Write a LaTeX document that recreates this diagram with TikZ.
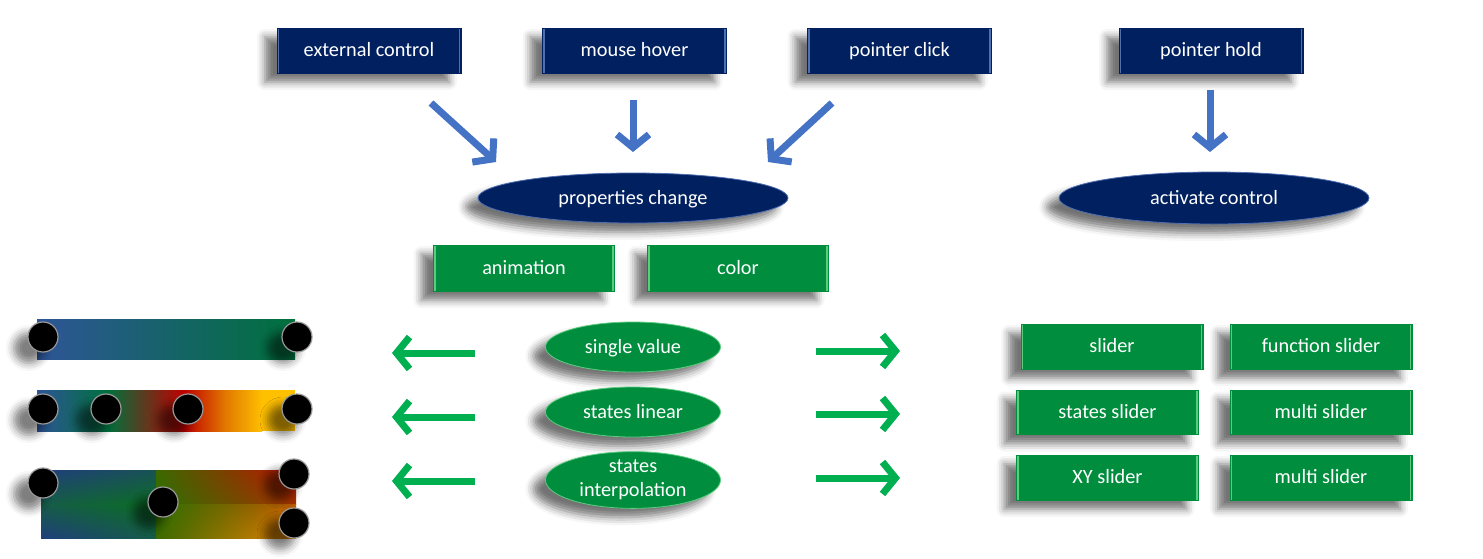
\documentclass[tikz,border=0pt]{standalone}
\usepackage{fontspec}
\setmainfont{Carlito}
\usetikzlibrary{arrows.meta,shapes.geometric,shadows.blur,shadings}
\definecolor{navy}{HTML}{002060}
\definecolor{navyedge}{HTML}{4F6FB0}
\definecolor{boxgreen}{HTML}{008E3E}
\definecolor{greenedge}{HTML}{5CCB7E}
\definecolor{arrowblue}{HTML}{4472C4}
\definecolor{arrowgreen}{HTML}{00B050}
\definecolor{cblue}{HTML}{2E5597}
\definecolor{cgreen}{HTML}{00703C}
\definecolor{cred}{HTML}{C00000}
\definecolor{corange}{HTML}{E07400}
\definecolor{cgold}{HTML}{FFC000}
\definecolor{qblue}{RGB}{31,63,122}
\definecolor{qteal}{RGB}{25,82,85}
\definecolor{qteal2}{RGB}{22,92,72}
\definecolor{qgreen}{RGB}{10,110,35}
\definecolor{qolive}{RGB}{60,105,0}
\definecolor{qolive2}{RGB}{45,112,0}
\definecolor{qred}{RGB}{192,20,0}
\definecolor{qbrown}{RGB}{165,50,0}
\definecolor{qdorange}{RGB}{190,90,0}
\definecolor{qorange}{RGB}{232,130,0}
\tikzset{
  shadowed/.style={blur shadow={shadow xshift=-12pt,shadow yshift=-9pt,shadow blur radius=8pt,shadow opacity=55}},
  txt/.style={text=white,font=\fontsize{20.3}{24}\selectfont,inner sep=0pt,align=center,text height=16pt,text depth=4pt},
  bevel/.style={path picture={
      \draw[#1,line width=1.2pt]
        ([xshift=1.5pt]path picture bounding box.north west) -- ([xshift=1.5pt]path picture bounding box.south west)
        ([xshift=-1.5pt]path picture bounding box.north east) -- ([xshift=-1.5pt]path picture bounding box.south east);}},
  navybox/.style={rectangle,fill=navy,draw=navy,txt,minimum width=184pt,minimum height=45pt,shadowed,bevel=navyedge},
  greenbox/.style={rectangle,fill=boxgreen,draw=boxgreen,txt,minimum width=182pt,minimum height=45pt,shadowed,bevel=greenedge},
  navyell/.style={ellipse,fill=navy,draw=navyedge,line width=0.8pt,txt,minimum width=310pt,minimum height=50pt,shadowed},
  greenell/.style={ellipse,fill=boxgreen,draw=greenedge,line width=0.8pt,txt,minimum width=175pt,minimum height=50pt,shadowed},
  bluearrow/.style={draw=arrowblue,line width=7pt,-{Straight Barb[length=13pt,width=32pt]}},
  greenarrow/.style={draw=arrowgreen,line width=7pt,-{Straight Barb[length=13pt,width=32pt]}},
  knob/.style={circle,fill=black,draw=gray!80,line width=1.2pt,minimum size=30pt,inner sep=0pt,
     blur shadow={shadow xshift=-14pt,shadow yshift=-11pt,shadow blur radius=8pt,shadow opacity=50}},
}
\begin{document}
\begin{tikzpicture}[x=1pt,y=-1pt]
\useasboundingbox (0,0) rectangle (1483,558);

% top row
\node[navybox] (ext)   at (369,50.5)  {external control};
\node[navybox] (hover) at (634.5,50.5){mouse hover};
\node[navybox] (click) at (899.5,50.5){pointer click};
\node[navybox] (hold)  at (1211,50.5) {pointer hold};

\node[navyell] (prop) at (633,198)  {properties change};
\node[navyell,minimum height=52pt] (act) at (1214,198) {activate control};

\coordinate (a1s) at (431,103); \coordinate (a1e) at (496,162);
\coordinate (a2s) at (633,100); \coordinate (a2e) at (633,152);
\coordinate (a3s) at (832,103); \coordinate (a3e) at (768,162);
\coordinate (a4s) at (1210,90); \coordinate (a4e) at (1210,152);
\draw[bluearrow] (a1s) -- (a1e);
\draw[bluearrow] (a2s) -- (a2e);
\draw[bluearrow] (a3s) -- (a3e);
\draw[bluearrow] (a4s) -- (a4e);

% green boxes
\node[greenbox,minimum width=181pt,minimum height=46pt] (anim)  at (524,268) {animation};
\node[greenbox,minimum width=181pt,minimum height=46pt] (color) at (738,268) {color};

\node[greenell] (sv) at (633,347) {single value};
\node[greenell] (sl) at (633,412) {states linear};
\node[greenell,minimum height=52pt,text height=,text depth=] (si) at (633,480) {states\\interpolation};

% left arrows
\coordinate (l1s) at (475,353); \coordinate (l1e) at (392,353);
\coordinate (l2s) at (475,417); \coordinate (l2e) at (392,417);
\coordinate (l3s) at (475,481); \coordinate (l3e) at (392,481);
\draw[greenarrow] (l1s) -- (l1e);
\draw[greenarrow] (l2s) -- (l2e);
\draw[greenarrow] (l3s) -- (l3e);
% right arrows
\coordinate (r1s) at (816,351); \coordinate (r1e) at (900,351);
\coordinate (r2s) at (816,414); \coordinate (r2e) at (900,414);
\coordinate (r3s) at (816,478); \coordinate (r3e) at (900,478);
\draw[greenarrow] (r1s) -- (r1e);
\draw[greenarrow] (r2s) -- (r2e);
\draw[greenarrow] (r3s) -- (r3e);

% right slider boxes
\node[greenbox] (slider)  at (1112,346.5)  {slider};
\node[greenbox] (fslider) at (1321,346.5)  {function slider};
\node[greenbox,minimum height=44pt] (stslider) at (1107.5,412.5) {states slider};
\node[greenbox,minimum height=44pt] (multi1)   at (1321,412.5)   {multi slider};
\node[greenbox] (xyslider) at (1107.5,477.5) {XY slider};
\node[greenbox] (multi2)   at (1321,477.5)   {multi slider};

% bar 1
\shade[left color=cblue,right color=cgreen] (37,319) rectangle (295,359);
% bar 2
\shade[left color=cblue,right color=cgreen] (37,390) rectangle (108,431);
\shade[left color=cgreen,right color=cred] (107.5,390) rectangle (184,431);
\shade[left color=cred,right color=corange] (183.5,390) rectangle (224,431);
\shade[left color=corange,right color=cgold] (223.5,390) rectangle (262,431);
\fill[cgold] (261.5,390) rectangle (295,431);
% bar 3 (bilinear quadrants)
\shade[upper left=qblue,upper right=qteal,lower left=qteal2,lower right=qgreen] (41,470) rectangle (156.5,504.5);
\shade[upper left=qteal2,upper right=qgreen,lower left=qblue,lower right=qteal2] (41,504) rectangle (156.5,538);
\shade[upper left=qolive,upper right=qred,lower left=qolive2,lower right=qbrown] (156,470) rectangle (296,504.5);
\shade[upper left=qolive2,upper right=qdorange,lower left=qolive,lower right=qorange] (156,504) rectangle (296,538);

% knobs
\node[knob] (k11) at (43,337) {};
\node[knob] (k12) at (297,337) {};
\node[knob] (k21) at (43,409) {};
\node[knob] (k22) at (106,409) {};
\node[knob] (k23) at (188,409) {};
\node[knob] (k24) at (297,409) {};
\node[knob] (k31) at (43,483) {};
\node[knob] (k32) at (163,502) {};
\node[knob] (k33) at (294,474) {};
\node[knob] (k34) at (294,523) {};
\end{tikzpicture}
\end{document}
